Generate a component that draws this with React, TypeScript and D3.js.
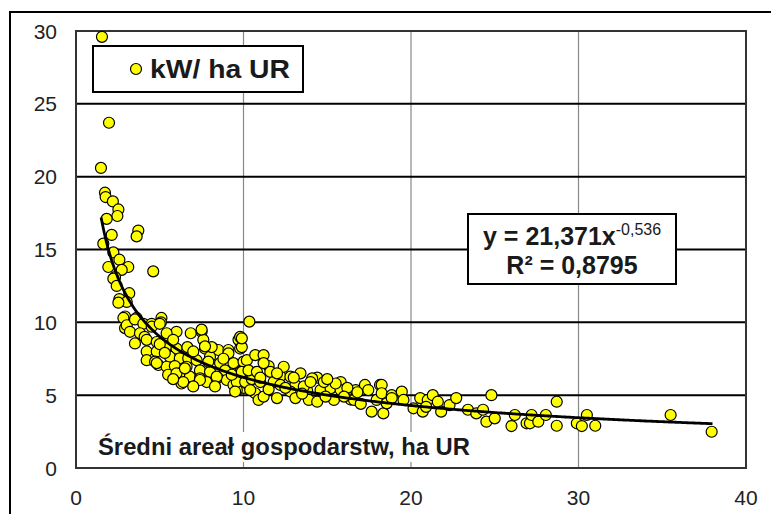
import React from "react";
import * as d3 from "d3";

const areaHa: number[] = [
  1.55, 1.97, 1.49, 1.73, 1.77, 2.2, 2.53, 2.47, 1.83, 3.72, 3.62, 2.13, 1.63, 2.23, 2.59, 3.12, 1.93, 4.61, 2.73, 2.33, 2.23, 2.43, 3.18, 2.59, 3.03, 2.53, 2.93, 3.62, 5.1,
  2.83, 2.93, 3.03, 3.52, 4.02, 4.52, 5.07, 6.0, 6.85, 7.5, 3.22, 3.82, 3.52, 4.1, 4.22, 4.82, 5.41, 4.22, 4.82, 5.41, 6.0, 6.65, 7.6, 7.7, 8.2, 8.5, 9.1, 9.7, 9.8, 10.35,
  4.22, 4.72, 4.92, 5.6, 6.2, 6.7, 7.2, 8.0, 8.6, 9.4, 10.0, 5.41, 5.9, 6.6, 7.4, 8.0, 8.9, 9.8, 5.5, 6.2, 6.8, 7.4, 6.3, 7.8, 8.4, 9.0, 9.4, 10.0, 9.6, 10.2,
  6.0, 6.5, 6.4, 7.4, 8.4, 8.1, 9.1, 9.8, 9.9, 9.6, 10.1, 9.5, 10.7, 10.9, 4.52, 5.0, 7.5, 7.7, 4.82,
  5.0, 5.8, 7.0, 7.9, 8.8, 9.3, 8.3, 7.0, 5.3, 5.8, 10.5, 11.5, 12.2, 13.8, 14.4, 15.8, 16.4,
  9.9, 10.2, 10.7, 11.2, 9.9, 10.3, 10.8, 11.2, 11.6, 12.4, 12.8, 13.4, 14.1, 11.0, 11.8, 12.2, 13.1, 13.6, 14.6, 10.4, 11.2, 12.0, 12.8, 13.1, 13.9, 14.4, 15.2, 15.8, 15.4,
  16.7, 16.6, 17.25, 17.45, 18.15, 17.95, 17.65, 18.35,
  13.0, 14.0, 14.8, 15.5, 16.2, 13.5, 14.9, 16.0, 12.5, 11.5, 11.0, 15.0, 16.8, 17.0, 12.0,
  18.25, 18.25, 18.85, 19.45, 18.55, 19.55, 20.15, 20.55, 20.7, 21.0, 21.3, 21.6, 21.8, 22.3, 22.7, 23.4, 23.9, 24.3, 24.5, 25.0, 24.8, 20.9, 18.85,
  26.0, 26.2, 26.9, 27.1, 27.2, 27.6, 28.05, 28.7, 28.7, 29.9, 30.2, 30.5, 31.0, 35.5, 37.95,
];

const kwPerHa: number[] = [
  29.6, 23.7, 20.6, 18.9, 18.6, 18.3, 17.75, 17.3, 17.1, 16.3, 15.9, 16.0, 15.4, 14.8, 14.3, 13.8, 13.8, 13.5, 13.6, 13.1, 13.0, 12.5, 12.0, 11.6, 11.4, 11.35, 10.4, 10.3, 10.3,
  10.3, 9.6, 9.8, 10.2, 9.9, 9.9, 10.0, 9.35, 9.25, 9.35, 9.35, 9.25, 8.55, 9.0, 8.8, 8.65, 9.25, 8.0, 8.0, 8.35, 8.2, 8.3, 8.8, 8.2, 8.2, 8.1, 8.1, 8.8, 8.2, 10.05,
  7.4, 7.3, 7.07, 7.64, 7.53, 7.53, 7.4, 7.64, 7.2, 7.2, 7.3, 6.95, 7.0, 6.95, 6.7, 6.6, 6.7, 6.6, 6.4, 6.5, 6.27, 6.15, 5.8, 5.9, 6.15, 6.04, 5.7, 5.5, 5.35, 5.8,
  6.5, 6.84, 5.9, 6.04, 6.27, 8.3, 7.87, 9.0, 8.3, 5.9, 5.9, 5.25, 5.13, 4.67, 9.7, 9.9, 9.5, 8.35, 7.2,
  8.5, 8.8, 8.0, 7.3, 7.5, 6.4, 5.6, 5.6, 7.9, 6.1, 6.1, 7.0, 6.3, 5.3, 6.2, 5.9, 4.7,
  8.9, 7.4, 7.75, 7.75, 6.6, 6.7, 6.6, 7.2, 6.6, 6.95, 6.27, 6.5, 6.15, 5.9, 5.9, 5.7, 5.7, 5.6, 5.35, 5.35, 4.9, 4.8, 5.25, 4.8, 4.67, 4.55, 5.47, 5.35, 4.67,
  5.35, 4.67, 5.7, 5.35, 5.7, 4.67, 3.87, 3.75,
  6.2, 5.9, 5.9, 5.8, 5.5, 5.1, 4.9, 4.9, 5.5, 5.4, 6.2, 6.1, 5.2, 4.4, 6.5,
  5.7, 5.13, 5.0, 5.24, 4.44, 4.67, 4.1, 4.8, 3.87, 4.67, 5.0, 4.55, 3.87, 4.32, 4.8, 4.0, 3.75, 4.0, 3.18, 3.41, 5.0, 4.2, 4.8,
  2.88, 3.64, 3.07, 3.07, 3.64, 3.18, 3.64, 4.55, 2.9, 3.07, 2.88, 3.64, 2.9, 3.64, 2.49,
];

const xTicks: number[] = [0, 10, 20, 30, 40];
const yTicks: number[] = [0, 5, 10, 15, 20, 25, 30];

const seriesName = "kW/ ha UR";
const xAxisTitle = "Średni areał gospodarstw, ha UR";
const fitA = 21.371;
const fitB = -0.536;
const fitRange: [number, number] = [1.5, 38];
const eqMain = "y = 21,371x";
const eqExp = "-0,536";
const r2Text = "R² = 0,8795";

export default function App() {
  const x = d3.scaleLinear().domain([0, 40]).range([76, 746]);
  const y = d3.scaleLinear().domain([0, 30]).range([468, 31]);

  const fitXs = d3.range(fitRange[0], fitRange[1] + 0.001, 0.1);
  const line = d3
    .line<number>()
    .x((d) => x(d))
    .y((d) => y(fitA * Math.pow(d, fitB)));

  const font = "'Liberation Sans', Arial, sans-serif";

  return (
    <svg
      width={771}
      height={514}
      style={{ position: "absolute", left: 0, top: 0, background: "#fff" }}
      fontFamily={font}
    >
      <rect x={0} y={0} width={771} height={514} fill="#fff" />
      {/* outer chart border */}
      <rect x={10} y={12} width={775} height={520} fill="none" stroke="#000" strokeWidth={2} />

      {/* vertical gridlines */}
      {xTicks.slice(1, -1).map((t) => (
        <line key={"vx" + t} x1={x(t)} x2={x(t)} y1={y(30)} y2={y(0)} stroke="#888" strokeWidth={1.2} />
      ))}
      {/* horizontal gridlines */}
      {yTicks.slice(1, -1).map((t) => (
        <line key={"hy" + t} x1={x(0)} x2={x(40)} y1={y(t)} y2={y(t)} stroke="#000" strokeWidth={2} />
      ))}

      {/* axis title with white background */}
      <rect x={95} y={432} width={380} height={30} fill="#fff" />
      <text x={98} y={455} fontSize={23} fontWeight="bold" fill="#1a1a1a" textLength={372} lengthAdjust="spacingAndGlyphs">
        {xAxisTitle}
      </text>

      {/* plot border */}
      <rect x={x(0)} y={y(30)} width={x(40) - x(0)} height={y(0) - y(30)} fill="none" stroke="#333" strokeWidth={2} />

      {/* points */}
      {areaHa.map((a, i) => (
        <circle key={i} cx={x(a)} cy={y(kwPerHa[i])} r={5.5} fill="#ffff00" stroke="#000" strokeWidth={1.2} />
      ))}

      {/* trend line */}
      <path d={line(fitXs) || ""} fill="none" stroke="#000" strokeWidth={2.8} />

      {/* legend */}
      <rect x={93} y={46} width={210} height={46} fill="#fff" stroke="#000" strokeWidth={2} />
      <circle cx={136} cy={69} r={5.5} fill="#ffff00" stroke="#000" strokeWidth={1.2} />
      <text x={150} y={78} fontSize={26} fontWeight="bold" fill="#1a1a1a" textLength={140} lengthAdjust="spacingAndGlyphs">
        {seriesName}
      </text>

      {/* equation box */}
      <rect x={468} y={214} width={208} height={70} fill="#fff" stroke="#000" strokeWidth={2} />
      <text x={483} y={245} fontSize={25} fontWeight="bold" fill="#1a1a1a">
        {eqMain}
        <tspan dy={-10} fontSize={16} fontWeight="normal">{eqExp}</tspan>
      </text>
      <text x={572} y={274} fontSize={25} fontWeight="bold" fill="#1a1a1a" textAnchor="middle">
        {r2Text}
      </text>

      {/* y tick labels */}
      {yTicks.map((t) => (
        <text key={"yl" + t} x={57} y={y(t)} dy="0.36em" fontSize={21} textAnchor="end" fill="#222">
          {t}
        </text>
      ))}
      {/* x tick labels */}
      {xTicks.map((t) => (
        <text key={"xl" + t} x={x(t)} y={505} fontSize={21} textAnchor="middle" fill="#222">
          {t}
        </text>
      ))}
    </svg>
  );
}
